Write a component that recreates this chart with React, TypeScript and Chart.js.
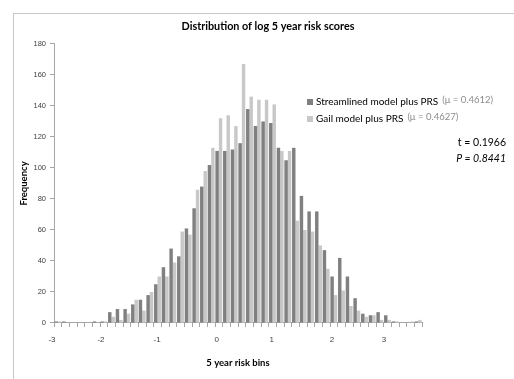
import React, { useEffect, useRef } from 'react';
import { Chart, registerables } from 'chart.js';

Chart.register(...registerables);

// 48 histogram bins (category axis)
const bins = [
  '1', '2', '3', '4', '5', '6', '7', '8', '9', '10', '11', '12',
  '13', '14', '15', '16', '17', '18', '19', '20', '21', '22', '23', '24',
  '25', '26', '27', '28', '29', '30', '31', '32', '33', '34', '35', '36',
  '37', '38', '39', '40', '41', '42', '43', '44', '45', '46', '47', '48',
];

const streamlined = [
  1, 1, 0, 0, 0, 1, 1, 7, 9, 9, 12, 15,
  18, 25, 36, 48, 43, 61, 74, 88, 102, 111, 111, 112,
  116, 138, 127, 130, 129, 113, 105, 113, 82, 72, 72, 47,
  30, 42, 30, 16, 6, 5, 7, 5, 1, 0, 0, 1,
];

const gail = [
  1, 0, 0, 0, 0, 0, 1, 4, 2, 6, 15, 8,
  20, 30, 30, 39, 59, 57, 86, 98, 113, 132, 134, 127,
  167, 146, 144, 144, 141, 111, 111, 66, 60, 59, 50, 35,
  18, 21, 11, 8, 4, 5, 2, 2, 1, 0, 1, 2,
];

const seriesNames = ['Streamlined model plus PRS', 'Gail model plus PRS'];
const seriesMeans = ['(\u03bc = 0.4612)', '(\u03bc = 0.4627)'];
const statLines = ['t = 0.1966', 'P = 0.8441'];

const xTickLabels = ['-3', '-2', '-1', '0', '1', '2', '3'];
// positions of the x labels, in bin-index units
const xTickBinPos = [-0.76, 5.63, 12.94, 20.72, 27.9, 35.76, 42.55];

const yMin = 0;
const yMax = 180;
const yStep = 20;

const DARK = '#808080';
const LIGHT = '#c8c8c8';
const AXIS = '#a6a6a6';
const TICK_FONT = { family: 'Liberation Sans', size: 7.5 };

const annotations = {
  id: 'annotations',
  afterDraw(chart: any) {
    const { ctx } = chart;
    ctx.save();
    const lx = 293;
    const ly = [88, 105];
    chart.data.datasets.forEach((d: any, i: number) => {
      ctx.fillStyle = d.backgroundColor;
      ctx.fillRect(lx, ly[i] - 3, 6, 6);
      ctx.textBaseline = 'middle';
      ctx.textAlign = 'left';
      ctx.font = '10px Lato';
      ctx.fillStyle = '#000';
      ctx.fillText(d.label, lx + 9, ly[i]);
      const w = ctx.measureText(d.label).width;
      ctx.font = '9.5px Lato';
      ctx.fillStyle = '#8c8c8c';
      ctx.fillText(seriesMeans[i], lx + 9 + w + 4, ly[i] - 2);
    });
    ctx.textAlign = 'right';
    ctx.textBaseline = 'middle';
    ctx.fillStyle = '#000';
    ctx.font = '10.5px Lato';
    ctx.fillText(statLines[0], 492, 129);
    ctx.font = 'italic 10.5px Lato';
    ctx.fillText(statLines[1], 492, 145);
    ctx.restore();
  },
};

export default function App() {
  const ref = useRef<HTMLCanvasElement | null>(null);

  useEffect(() => {
    if (!ref.current) return;
    const chart = new Chart(ref.current, {
      type: 'bar',
      data: {
        labels: bins,
        datasets: [
          {
            label: seriesNames[0],
            data: streamlined,
            backgroundColor: DARK,
            categoryPercentage: 0.9,
            barPercentage: 1,
          },
          {
            label: seriesNames[1],
            data: gail,
            backgroundColor: LIGHT,
            categoryPercentage: 0.9,
            barPercentage: 1,
          },
        ],
      },
      options: {
        responsive: false,
        maintainAspectRatio: false,
        animation: false,
        layout: { padding: 0 },
        plugins: {
          legend: { display: false },
          tooltip: { enabled: false },
          title: {
            display: true,
            text: 'Distribution of log 5 year risk scores',
            color: '#000',
            font: { family: 'Lato', size: 10.8, weight: 'bold' },
            padding: { top: 6, bottom: 11 },
          },
        },
        scales: {
          x: {
            type: 'category',
            position: 'bottom',
            weight: 0,
            offset: true,
            grid: {
              display: true,
              drawOnChartArea: false,
              drawTicks: true,
              tickLength: 4,
              color: AXIS,
              offset: true,
            },
            border: { display: true, color: AXIS },
            ticks: { display: false },
            afterFit: (s: any) => {
              s.height = 4;
            },
          },
          x2: {
            type: 'linear',
            axis: 'x',
            position: 'bottom',
            weight: 1,
            offset: false,
            min: -0.5,
            max: bins.length - 0.5,
            grid: { display: false, offset: false },
            border: { display: false },
            ticks: {
              autoSkip: false,
              padding: 0,
              color: '#404040',
              font: { family: 'Liberation Sans', size: 8 },
              maxRotation: 0,
              callback: (_v: any, i: number) => xTickLabels[i],
            },
            afterBuildTicks: (s: any) => {
              s.ticks = xTickBinPos.map((v) => ({ value: v }));
            },
            title: {
              display: true,
              text: '5 year risk bins',
              color: '#000',
              font: { family: 'Lato', size: 9.5, weight: 'bold' },
              padding: { top: 0, bottom: 10.5 },
            },
            afterFit: (s: any) => {
              s.height = 52;
            },
          } as any,
          y: {
            min: yMin,
            max: yMax,
            ticks: { stepSize: yStep, padding: 4, color: '#404040', font: TICK_FONT },
            grid: { drawOnChartArea: false, drawTicks: true, tickLength: 4, color: AXIS },
            border: { display: true, color: AXIS },
            title: {
              display: true,
              text: 'Frequency',
              color: '#000',
              font: { family: 'Lato', size: 9.5, weight: 'bold' },
              padding: { top: 4.6, bottom: 0 },
            },
            afterFit: (s: any) => {
              s.width = 40;
            },
          },
          yPad: {
            type: 'linear',
            axis: 'y',
            position: 'right',
            display: true,
            grid: { display: false },
            border: { display: false },
            ticks: { display: false },
            afterFit: (s: any) => {
              s.width = 100;
            },
          } as any,
        },
      },
      plugins: [annotations],
    } as any);
    return () => chart.destroy();
  }, []);

  return (
    <div
      style={{
        position: 'fixed',
        left: 13,
        top: 13,
        width: 540,
        height: 400,
        border: '1px solid #c8c8c8',
        background: '#fff',
        overflow: 'hidden',
      }}
    >
      <canvas ref={ref} width={508} height={365} style={{ display: 'block' }} />
    </div>
  );
}
